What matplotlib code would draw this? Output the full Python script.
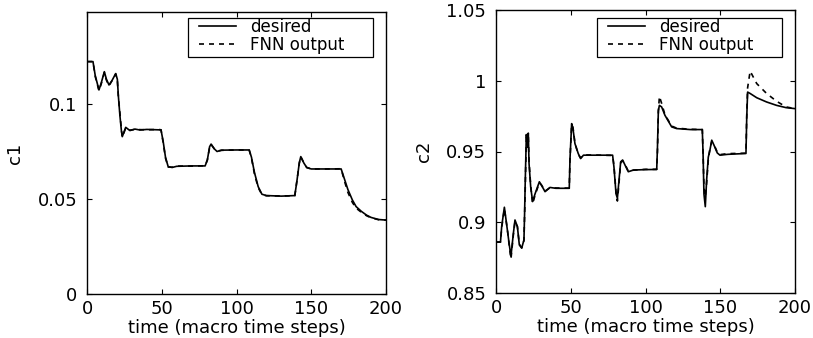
import matplotlib
matplotlib.use("Agg")
import matplotlib.pyplot as plt
from matplotlib.patches import Rectangle

# ---- data: c1 ----
t_c1 = [0, 4, 5.5, 8, 9.5, 11.6, 13, 14.7, 16.5, 19.2, 20.3, 21, 22, 23, 23.6,
        25.9, 28.7, 32, 35.4, 40, 47.7, 49.5, 51, 52.5, 54.3, 57, 60, 70, 79,
        80.5, 82, 83, 85, 87, 90, 100, 108.5, 110, 112, 114.5, 117, 120, 130,
        139, 140.5, 142, 143, 145, 147, 150, 160, 170, 172, 174.5, 177.5, 180,
        183.5, 187, 190, 195, 200]
c1_desired = [0.1223, 0.1223, 0.115, 0.1074, 0.111, 0.117, 0.113, 0.110, 0.112,
              0.116, 0.113, 0.104, 0.094, 0.086, 0.0828, 0.0877, 0.0860, 0.0868,
              0.0863, 0.0866, 0.0864, 0.0864, 0.080, 0.072, 0.0670, 0.0666,
              0.0672, 0.0674, 0.0674, 0.0705, 0.0775, 0.0789, 0.0765, 0.0750,
              0.0757, 0.0758, 0.0758, 0.0720, 0.0640, 0.0565, 0.0525, 0.0518,
              0.0515, 0.0518, 0.0600, 0.0690, 0.0723, 0.0690, 0.0665, 0.0658,
              0.0658, 0.0658, 0.0610, 0.0550, 0.0495, 0.0460, 0.0435, 0.0415,
              0.0403, 0.0392, 0.0389]
c1_fnn = [0.1223, 0.1223, 0.1145, 0.1070, 0.1105, 0.1165, 0.1125, 0.1095, 0.112,
          0.1158, 0.1125, 0.1035, 0.0955, 0.0865, 0.0825, 0.0874, 0.0862, 0.0866,
          0.0865, 0.0864, 0.0866, 0.0864, 0.0795, 0.0715, 0.0668, 0.0667,
          0.0673, 0.0673, 0.0675, 0.0705, 0.0770, 0.0787, 0.0766, 0.0752,
          0.0756, 0.0758, 0.0757, 0.0715, 0.0632, 0.0560, 0.0523, 0.0517,
          0.0516, 0.0517, 0.0600, 0.0688, 0.0722, 0.0691, 0.0666, 0.0658,
          0.0658, 0.0659, 0.0600, 0.0535, 0.0482, 0.0452, 0.0430, 0.0412,
          0.0401, 0.0391, 0.0389]

# ---- data: c2 ----
t_c2 = [0, 3, 3.8, 5.6, 7.6, 8.9, 10, 11.6, 12.7, 14.3, 15.6, 17.2, 18.7, 19.1,
        19.5, 20.3, 21.0, 21.6, 22.1, 23.2, 24.5, 26.1, 29, 30.5, 32.8, 36.1,
        40, 49, 49.5, 50.6, 51.5, 52.8, 55, 56.6, 58.5, 65, 78, 78.9, 80.3,
        81.2, 82.3, 83.4, 84.7, 86.3, 88.5, 91.9, 100, 107.5, 108, 108.6, 109.3,
        110.8, 113, 117.5, 120.8, 130, 138, 138.5, 139.1, 140, 140.9, 142,
        143.1, 144.3, 145.8, 148, 149.8, 155, 167.2, 167.7, 168.3, 170, 174.4,
        181, 187.7, 194, 200]
c2_desired = [0.886, 0.886, 0.897, 0.9106, 0.8946, 0.884, 0.876, 0.892, 0.9016,
              0.897, 0.884, 0.8817, 0.8876, 0.905, 0.926, 0.962, 0.955, 0.963,
              0.9415, 0.925, 0.9146, 0.920, 0.9286, 0.926, 0.9216, 0.9246,
              0.924, 0.924, 0.945, 0.9697, 0.966, 0.9556, 0.9486, 0.945, 0.9474,
              0.9474, 0.9474, 0.939, 0.920, 0.917, 0.930, 0.9427, 0.944, 0.9404,
              0.9357, 0.9369, 0.9372, 0.9373, 0.953, 0.979, 0.9826, 0.9815,
              0.9756, 0.9674, 0.9662, 0.9655, 0.9655, 0.9486, 0.920, 0.911,
              0.930, 0.946, 0.951, 0.958, 0.9545, 0.949, 0.9474, 0.948, 0.9486,
              0.9732, 0.992, 0.991, 0.988, 0.985, 0.9826, 0.981, 0.9803]
c2_fnn = [0.886, 0.886, 0.896, 0.9095, 0.8950, 0.883, 0.874, 0.891, 0.9005,
          0.897, 0.8845, 0.8820, 0.8870, 0.904, 0.921, 0.960, 0.953, 0.962,
          0.943, 0.926, 0.913, 0.919, 0.9280, 0.9262, 0.9220, 0.9244,
          0.9242, 0.9241, 0.944, 0.9690, 0.967, 0.9560, 0.9480, 0.9455, 0.9476,
          0.9475, 0.9472, 0.940, 0.921, 0.915, 0.928, 0.9420, 0.9435, 0.9410,
          0.9360, 0.9368, 0.9374, 0.9374, 0.950, 0.978, 0.9890, 0.9840,
          0.9760, 0.9680, 0.9665, 0.9657, 0.9655, 0.9495, 0.925, 0.918,
          0.928, 0.944, 0.952, 0.957, 0.9550, 0.9495, 0.9478, 0.9485, 0.9488,
          0.975, 0.995, 1.0068, 0.998, 0.991, 0.9855, 0.9815, 0.9803]

x_ticks = [0, 50, 100, 150, 200]
c1_ticks = [0, 0.05, 0.1]
c1_ticklabels = ["0", "0.05", "0.1"]
c2_ticks = [0.85, 0.9, 0.95, 1.0, 1.05]
c2_ticklabels = ["0.85", "0.9", "0.95", "1", "1.05"]

plt.rcParams['font.family'] = ['DejaVu Sans']
FS = 13
LFS = 12

fig = plt.figure(figsize=(8.13, 3.38), dpi=100)
AW, AH = 299, 282
ax1 = fig.add_axes([87 / 813, 44 / 338, AW / 813, AH / 338])
ax2 = fig.add_axes([496 / 813, 45 / 338, AW / 813, (AH + 1) / 338])

DASH = (0, (3, 3))


def style(ax, ylabel, yticks, yticklabels, ylim, top_px):
    H = ax.get_position().height * 338
    ax.set_xlim(0, 200)
    ax.set_ylim(*ylim)
    ax.set_xticks(x_ticks)
    ax.set_xticklabels([str(v) for v in x_ticks])
    ax.set_yticks(yticks)
    ax.set_yticklabels(yticklabels)
    ax.tick_params(direction='in', length=3.5, width=0.8, top=True, right=True,
                   labelsize=FS, colors='black')
    ax.tick_params(axis='y', pad=7)
    ax.tick_params(axis='x', pad=4)
    for s in ax.spines.values():
        s.set_linewidth(1.0)
        s.set_color('black')
    ax.set_xlabel("time (macro time steps)", fontsize=FS, labelpad=1)
    ax.set_ylabel(ylabel, fontsize=FS)
    ax.yaxis.set_label_coords(-0.21, 0.5)
    # legend box (pixel offsets relative to axes top-left)
    bx0, bx1 = 101.3, 286.0
    by0, by1 = 17.7 - top_px, 56.7 - top_px
    ax.add_patch(Rectangle((bx0 / AW, 1 - by1 / H), (bx1 - bx0) / AW, (by1 - by0) / H,
                           transform=ax.transAxes, facecolor='white',
                           edgecolor='black', linewidth=0.9, zorder=4))
    leg = ax.legend(loc='upper left',
                    bbox_to_anchor=((bx0 + 10.5) / AW, 1 - (by0 + 0.2) / H),
                    fontsize=LFS, frameon=False, handlelength=2.25,
                    handletextpad=0.84, labelspacing=0.0,
                    borderpad=0.0, borderaxespad=0.0)
    leg.set_zorder(5)


ax1.plot(t_c1, c1_desired, color='black', lw=1.2, ls='-', label='desired')
ax1.plot(t_c1, c1_fnn, color='black', lw=1.2, ls=DASH, label='FNN output')
style(ax1, "c1", c1_ticks, c1_ticklabels, (0, 0.1484), 12)

ax2.plot(t_c2, c2_desired, color='black', lw=1.2, ls='-', label='desired')
ax2.plot(t_c2, c2_fnn, color='black', lw=1.2, ls=DASH, label='FNN output')
style(ax2, "c2", c2_ticks, c2_ticklabels, (0.85, 1.05), 10)

fig.savefig("out.png", dpi=100)
